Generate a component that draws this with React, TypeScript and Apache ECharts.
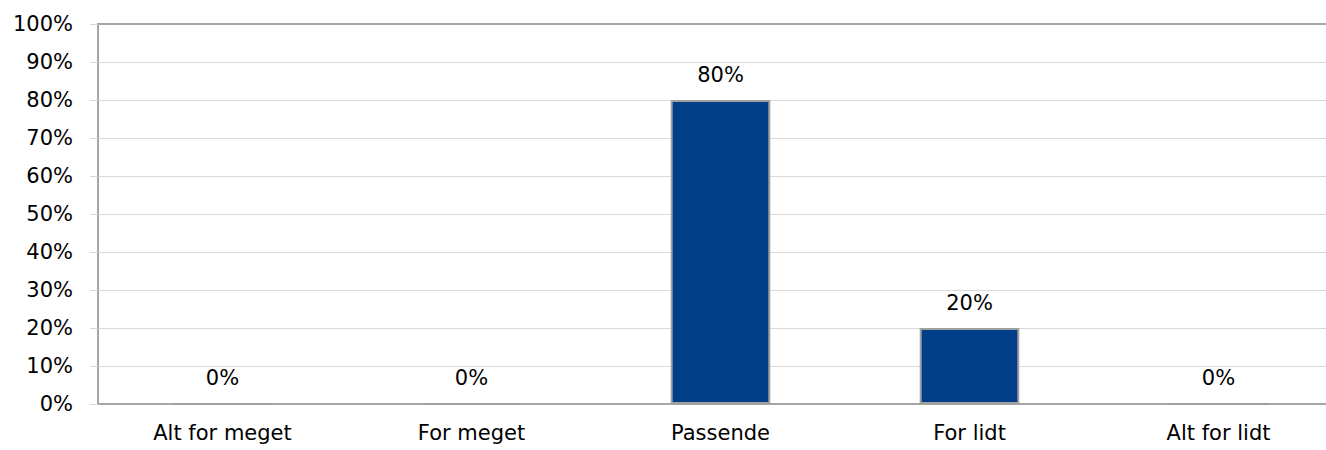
import React, { useEffect, useRef } from "react";
import * as echarts from "echarts";

const categories = ["Alt for meget", "For meget", "Passende", "For lidt", "Alt for lidt"];
const values = [0, 0, 80, 20, 0];
const yTicks = [0, 10, 20, 30, 40, 50, 60, 70, 80, 90, 100];

const FONT = "DejaVu Sans";
const FS = 21;

export default function App() {
  const ref = useRef<HTMLDivElement>(null);
  useEffect(() => {
    if (!ref.current) return;
    const chart = echarts.init(ref.current, undefined, { renderer: "svg" });
    chart.setOption({
      animation: false,
      grid: {
        left: 98,
        top: 24,
        bottom: 46,
        right: 0,
        show: false,
        outerBoundsMode: "none",
      },
      xAxis: [
        {
          type: "category",
          data: categories,
          axisLine: { show: true, lineStyle: { color: "#a6a6a6", width: 2 } },
          axisTick: { show: false },
          axisLabel: { color: "#000", fontFamily: FONT, fontSize: FS, margin: 18 },
        },
        {
          type: "category",
          data: categories,
          position: "top",
          axisLine: { show: true, lineStyle: { color: "#a6a6a6", width: 2 } },
          axisTick: { show: false },
          axisLabel: { show: false },
        },
      ],
      yAxis: {
        type: "value",
        min: yTicks[0],
        max: yTicks[yTicks.length - 1],
        interval: 10,
        axisLine: { show: true, lineStyle: { color: "#a6a6a6", width: 2 } },
        axisTick: { show: true, length: 8, lineStyle: { color: "#d9d9d9", width: 1 } },
        splitLine: { show: true, lineStyle: { color: "#d9d9d9", width: 1 } },
        axisLabel: {
          color: "#000",
          fontFamily: FONT,
          fontSize: FS,
          margin: 25,
          formatter: (v: number) => v + "%",
        },
      },
      series: [
        {
          type: "bar",
          data: values,
          barCategoryGap: "60%",
          itemStyle: { color: "#003f87", borderColor: "#a0a0a0", borderWidth: 2 },
          label: {
            show: true,
            position: "top",
            distance: 15,
            color: "#000",
            fontFamily: FONT,
            fontSize: FS,
            formatter: (p: any) => p.value + "%",
          },
        },
      ],
    });
    return () => chart.dispose();
  }, []);
  return (
    <div style={{ position: "fixed", left: 0, top: 0, width: 1326, height: 450, overflow: "hidden", background: "#fff" }}>
      <div ref={ref} style={{ width: 1343, height: 450 }} />
    </div>
  );
}
